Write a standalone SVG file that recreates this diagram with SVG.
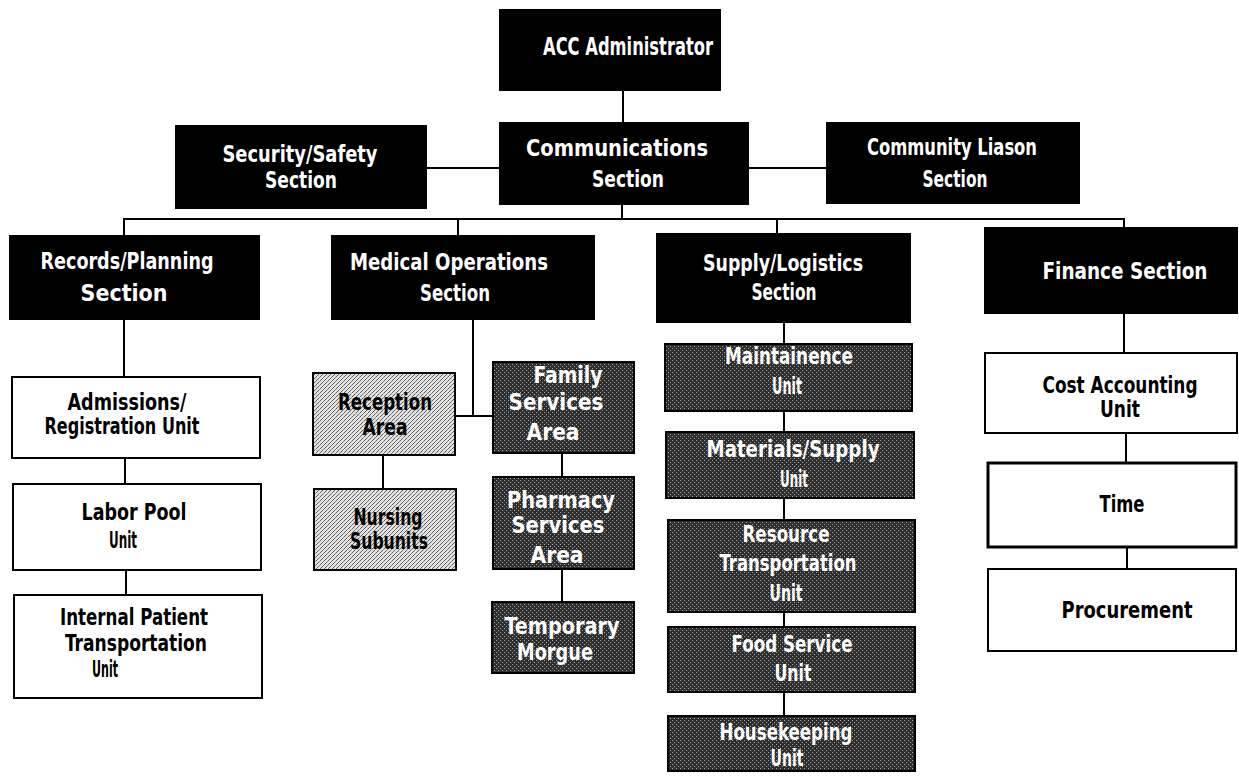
<svg xmlns="http://www.w3.org/2000/svg" width="1239" height="778" viewBox="0 0 1239 778">
<style>
  text { font-family: "DejaVu Sans Condensed", "DejaVu Sans", "Liberation Sans", sans-serif; font-weight: bold; font-size: 23px; text-anchor: middle; }
  .w { fill: #ffffff; }
  .k { fill: #000000; }
  .blk { fill: #000000; stroke: #000000; stroke-width: 2; }
  .wht { fill: #ffffff; stroke: #000000; stroke-width: 2; }
  .dark { fill: url(#dk); stroke: #000000; stroke-width: 2; }
  .light { fill: url(#lt); stroke: #000000; stroke-width: 2; }
  .conn line { stroke: #000000; stroke-width: 2; }
</style>
<defs>
  <pattern id="dk" width="4" height="4" patternUnits="userSpaceOnUse">
    <rect width="4" height="4" fill="#2e2e2e"/>
    <rect x="0" y="0" width="1" height="1" fill="#a8a8a8"/>
    <rect x="2" y="2" width="1" height="1" fill="#a8a8a8"/>
  </pattern>
  <pattern id="lt" width="4" height="4" patternUnits="userSpaceOnUse">
    <rect width="4" height="4" fill="#e0e0e0"/>
    <rect x="0" y="0" width="1" height="1" fill="#606060"/>
    <rect x="2" y="2" width="1" height="1" fill="#606060"/>
    <rect x="1" y="3" width="1" height="1" fill="#606060"/>
    <rect x="3" y="1" width="1" height="1" fill="#909090"/>
  </pattern>
</defs>
<rect width="1239" height="778" fill="#ffffff"/>

<g id="connectors" class="conn">
  <line x1="623" y1="90" x2="623" y2="123"/>
  <line x1="426" y1="168" x2="500" y2="168"/>
  <line x1="748" y1="168" x2="827" y2="168"/>
  <line x1="622" y1="204" x2="622" y2="219"/>
  <line x1="123" y1="219" x2="1125" y2="219"/>
  <line x1="124" y1="219" x2="124" y2="236"/>
  <line x1="458" y1="219" x2="458" y2="236"/>
  <line x1="777" y1="219" x2="777" y2="234"/>
  <line x1="1124" y1="219" x2="1124" y2="228"/>
  <line x1="124" y1="319" x2="124" y2="377"/>
  <line x1="125" y1="458" x2="125" y2="484"/>
  <line x1="126" y1="570" x2="126" y2="595"/>
  <line x1="473" y1="319" x2="473" y2="416"/>
  <line x1="455" y1="416" x2="493" y2="416"/>
  <line x1="383" y1="455" x2="383" y2="489"/>
  <line x1="562" y1="453" x2="562" y2="477"/>
  <line x1="562" y1="569" x2="562" y2="602"/>
  <line x1="784" y1="322" x2="784" y2="716"/>
  <line x1="1124" y1="313" x2="1124" y2="353"/>
  <line x1="1126" y1="433" x2="1126" y2="463"/>
  <line x1="1127" y1="547" x2="1127" y2="569"/>
</g>

<g id="acc-administrator">
  <rect class="blk" x="500" y="10" width="220" height="80"/>
  <text class="w" x="628" y="55" textLength="170" lengthAdjust="spacingAndGlyphs" style="font-size:24px">ACC Administrator</text>
</g>
<g id="security-safety">
  <rect class="blk" x="176" y="126" width="250" height="82"/>
  <text class="w" x="300" y="162" textLength="155" lengthAdjust="spacingAndGlyphs">Security/Safety</text>
  <text class="w" x="301" y="188" textLength="72" lengthAdjust="spacingAndGlyphs">Section</text>
</g>
<g id="communications">
  <rect class="blk" x="500" y="123" width="248" height="81"/>
  <text class="w" x="617" y="156" textLength="182" lengthAdjust="spacingAndGlyphs">Communications</text>
  <text class="w" x="628" y="187" textLength="72" lengthAdjust="spacingAndGlyphs">Section</text>
</g>
<g id="community-liason">
  <rect class="blk" x="827" y="123" width="252" height="80"/>
  <text class="w" x="952" y="155" textLength="170" lengthAdjust="spacingAndGlyphs">Community Liason</text>
  <text class="w" x="955" y="187" textLength="65" lengthAdjust="spacingAndGlyphs">Section</text>
</g>

<g id="records-planning">
  <rect class="blk" x="10" y="236" width="249" height="83"/>
  <text class="w" x="127" y="269" textLength="173" lengthAdjust="spacingAndGlyphs">Records/Planning</text>
  <text class="w" x="124" y="301" textLength="87" lengthAdjust="spacingAndGlyphs">Section</text>
</g>
<g id="medical-operations">
  <rect class="blk" x="332" y="236" width="262" height="83"/>
  <text class="w" x="449" y="270" textLength="198" lengthAdjust="spacingAndGlyphs">Medical Operations</text>
  <text class="w" x="455" y="301" textLength="70" lengthAdjust="spacingAndGlyphs">Section</text>
</g>
<g id="supply-logistics">
  <rect class="blk" x="657" y="234" width="253" height="88"/>
  <text class="w" x="783" y="271" textLength="160" lengthAdjust="spacingAndGlyphs">Supply/Logistics</text>
  <text class="w" x="784" y="300" textLength="65" lengthAdjust="spacingAndGlyphs">Section</text>
</g>
<g id="finance">
  <rect class="blk" x="985" y="228" width="252" height="85"/>
  <text class="w" x="1125" y="279" textLength="165" lengthAdjust="spacingAndGlyphs">Finance Section</text>
</g>

<g id="admissions-registration">
  <rect class="wht" x="12" y="377" width="248" height="81"/>
  <text class="k" x="127" y="410" textLength="119" lengthAdjust="spacingAndGlyphs">Admissions/</text>
  <text class="k" x="122" y="434" textLength="155" lengthAdjust="spacingAndGlyphs">Registration Unit</text>
</g>
<g id="labor-pool">
  <rect class="wht" x="13" y="484" width="248" height="86"/>
  <text class="k" x="134" y="520" textLength="105" lengthAdjust="spacingAndGlyphs">Labor Pool</text>
  <text class="k" x="123" y="548" textLength="28" lengthAdjust="spacingAndGlyphs">Unit</text>
</g>
<g id="internal-patient-transportation">
  <rect class="wht" x="14" y="595" width="248" height="103"/>
  <text class="k" x="134" y="625" textLength="148" lengthAdjust="spacingAndGlyphs">Internal Patient</text>
  <text class="k" x="136" y="651" textLength="142" lengthAdjust="spacingAndGlyphs">Transportation</text>
  <text class="k" x="105" y="677" textLength="26" lengthAdjust="spacingAndGlyphs">Unit</text>
</g>

<g id="reception-area">
  <rect class="light" x="313" y="373" width="142" height="82"/>
  <text class="k" x="385" y="410" textLength="94" lengthAdjust="spacingAndGlyphs">Reception</text>
  <text class="k" x="385" y="435" textLength="45" lengthAdjust="spacingAndGlyphs">Area</text>
</g>
<g id="nursing-subunits">
  <rect class="light" x="314" y="489" width="142" height="81"/>
  <text class="k" x="388" y="525" textLength="69" lengthAdjust="spacingAndGlyphs">Nursing</text>
  <text class="k" x="389" y="549" textLength="78" lengthAdjust="spacingAndGlyphs">Subunits</text>
</g>
<g id="family-services">
  <rect class="dark" x="493" y="362" width="141" height="91"/>
  <text class="w" x="568" y="383" textLength="69" lengthAdjust="spacingAndGlyphs">Family</text>
  <text class="w" x="556" y="410" textLength="95" lengthAdjust="spacingAndGlyphs">Services</text>
  <text class="w" x="553" y="440" textLength="53" lengthAdjust="spacingAndGlyphs">Area</text>
</g>
<g id="pharmacy-services">
  <rect class="dark" x="493" y="477" width="141" height="92"/>
  <text class="w" x="561" y="508" textLength="108" lengthAdjust="spacingAndGlyphs">Pharmacy</text>
  <text class="w" x="558" y="533" textLength="93" lengthAdjust="spacingAndGlyphs">Services</text>
  <text class="w" x="557" y="563" textLength="53" lengthAdjust="spacingAndGlyphs">Area</text>
</g>
<g id="temporary-morgue">
  <rect class="dark" x="492" y="602" width="142" height="71"/>
  <text class="w" x="562" y="634" textLength="115" lengthAdjust="spacingAndGlyphs">Temporary</text>
  <text class="w" x="555" y="660" textLength="76" lengthAdjust="spacingAndGlyphs">Morgue</text>
</g>

<g id="maintainence-unit">
  <rect class="dark" x="665" y="344" width="247" height="67"/>
  <text class="w" x="789" y="364" textLength="128" lengthAdjust="spacingAndGlyphs">Maintainence</text>
  <text class="w" x="787" y="394" textLength="30" lengthAdjust="spacingAndGlyphs">Unit</text>
</g>
<g id="materials-supply-unit">
  <rect class="dark" x="666" y="432" width="248" height="66"/>
  <text class="w" x="793" y="457" textLength="173" lengthAdjust="spacingAndGlyphs">Materials/Supply</text>
  <text class="w" x="794" y="487" textLength="28" lengthAdjust="spacingAndGlyphs">Unit</text>
</g>
<g id="resource-transportation-unit">
  <rect class="dark" x="668" y="520" width="247" height="92"/>
  <text class="w" x="786" y="542" textLength="87" lengthAdjust="spacingAndGlyphs">Resource</text>
  <text class="w" x="788" y="571" textLength="137" lengthAdjust="spacingAndGlyphs">Transportation</text>
  <text class="w" x="786" y="601" textLength="33" lengthAdjust="spacingAndGlyphs">Unit</text>
</g>
<g id="food-service-unit">
  <rect class="dark" x="668" y="627" width="247" height="65"/>
  <text class="w" x="792" y="652" textLength="121" lengthAdjust="spacingAndGlyphs">Food Service</text>
  <text class="w" x="793" y="681" textLength="37" lengthAdjust="spacingAndGlyphs">Unit</text>
</g>
<g id="housekeeping-unit">
  <rect class="dark" x="668" y="716" width="247" height="55"/>
  <text class="w" x="786" y="740" textLength="133" lengthAdjust="spacingAndGlyphs">Housekeeping</text>
  <text class="w" x="787" y="766" textLength="33" lengthAdjust="spacingAndGlyphs">Unit</text>
</g>

<g id="cost-accounting-unit">
  <rect class="wht" x="985" y="353" width="252" height="80"/>
  <text class="k" x="1120" y="393" textLength="155" lengthAdjust="spacingAndGlyphs">Cost Accounting</text>
  <text class="k" x="1120" y="417" textLength="40" lengthAdjust="spacingAndGlyphs">Unit</text>
</g>
<g id="time">
  <rect class="wht" x="988" y="463" width="248" height="84" style="stroke-width:3"/>
  <text class="k" x="1122" y="512" textLength="45" lengthAdjust="spacingAndGlyphs">Time</text>
</g>
<g id="procurement">
  <rect class="wht" x="988" y="569" width="248" height="82"/>
  <text class="k" x="1127" y="618" textLength="131" lengthAdjust="spacingAndGlyphs">Procurement</text>
</g>
</svg>
